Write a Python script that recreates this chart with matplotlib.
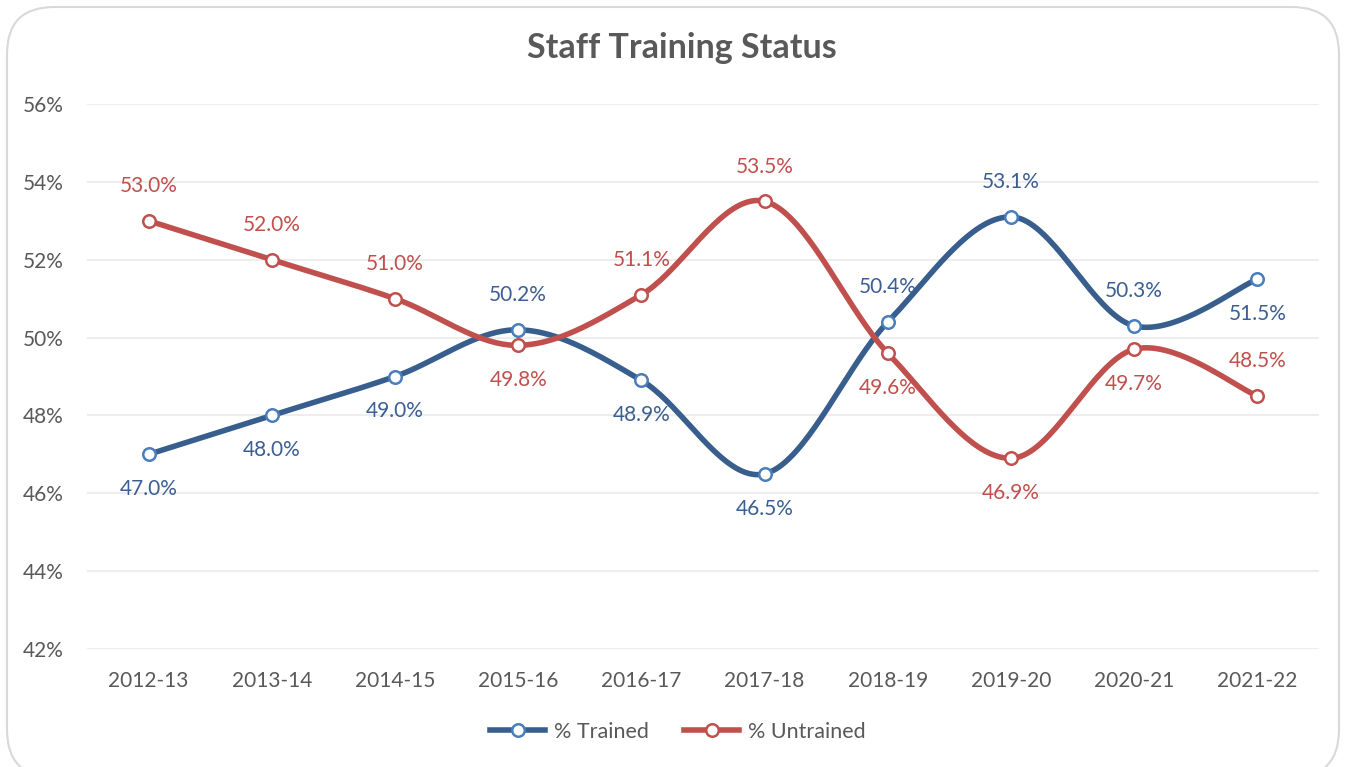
import matplotlib.pyplot as plt
import numpy as np
from matplotlib.patches import FancyBboxPatch

years = ["2012-13", "2013-14", "2014-15", "2015-16", "2016-17",
         "2017-18", "2018-19", "2019-20", "2020-21", "2021-22"]
trained = [47.0, 48.0, 49.0, 50.2, 48.9, 46.5, 50.4, 53.1, 50.3, 51.5]
untrained = [53.0, 52.0, 51.0, 49.8, 51.1, 53.5, 49.6, 46.9, 49.7, 48.5]
# label placement: 1 above, -1 below
trained_pos = [-1, -1, -1, 1, -1, -1, 1, 1, 1, -1]
untrained_pos = [1, 1, 1, -1, 1, 1, -1, -1, -1, 1]

plt.rcParams['font.family'] = ['Lato', 'DejaVu Sans']

BLUE = '#385E8E'
BLUE_EDGE = '#4A7EBB'
BLUE_TXT = '#3B5E93'
RED = '#C0504D'
RED_TXT = '#C0504D'
GREY = '#595959'


def smooth(x, y, n=40):
    # spline like excel's "smoothed line" (catmull-rom bezier)
    x = np.asarray(x, float)
    y = np.asarray(y, float)
    px = np.concatenate([[x[0]], x, [x[-1]]])
    py = np.concatenate([[y[0]], y, [y[-1]]])
    xs, ys = [], []
    t = np.linspace(0, 1, n)
    for i in range(1, len(px) - 2):
        p0 = np.array([px[i], py[i]])
        p3 = np.array([px[i + 1], py[i + 1]])
        c1 = p0 + (np.array([px[i + 1], py[i + 1]]) - np.array([px[i - 1], py[i - 1]])) / 6
        c2 = p3 - (np.array([px[i + 2], py[i + 2]]) - np.array([px[i], py[i]])) / 6
        b = ((1 - t) ** 3)[:, None] * p0 + (3 * (1 - t) ** 2 * t)[:, None] * c1 \
            + (3 * (1 - t) * t ** 2)[:, None] * c2 + (t ** 3)[:, None] * p3
        xs.extend(b[:, 0])
        ys.extend(b[:, 1])
    return np.array(xs), np.array(ys)


fig = plt.figure(figsize=(13.46, 7.67), dpi=100)
ax = fig.add_axes([87 / 1346, 1 - 649 / 767, (1319 - 87) / 1346, (649 - 104) / 767])

# chart frame (bottom edge runs just past the picture)
frame = FancyBboxPatch((7 / 1346, -10 / 767), 1332 / 1346, 770 / 767,
                       boxstyle="round,pad=0,rounding_size=0.035",
                       transform=fig.transFigure, fill=False, clip_on=False,
                       edgecolor='#D9D9D9', linewidth=1.5, mutation_aspect=1346 / 767)
fig.patches.append(frame)

x = np.arange(len(years))
for vals, pos, col, edge, txt, name in [
        (trained, trained_pos, BLUE, BLUE_EDGE, BLUE_TXT, "% Trained"),
        (untrained, untrained_pos, RED, RED, RED_TXT, "% Untrained")]:
    sx, sy = smooth(x, vals)
    ax.plot(sx, sy, color=col, linewidth=4, solid_capstyle='round', zorder=3)
    ax.plot(x, vals, linestyle='none', marker='o', markersize=9,
            markerfacecolor='white', markeredgecolor=edge, markeredgewidth=1.8, zorder=4)
    ax.plot([], [], color=col, linewidth=4, marker='o', markersize=9,
            markerfacecolor='white', markeredgecolor=edge, markeredgewidth=1.8, label=name)
    for xi, v, p in zip(x, vals, pos):
        ax.annotate(f"{v:.1f}%", (xi, v), xytext=(0, 25 * p), textcoords='offset points',
                    ha='center', va='center', fontsize=15, color=txt)

ax.set_xlim(-0.5, len(years) - 0.5)
ax.set_ylim(42, 56)
ax.set_yticks(np.arange(42, 57, 2))
ax.set_yticklabels([f"{v}%" for v in range(42, 57, 2)])
ax.set_xticks(x)
ax.set_xticklabels(years)
ax.tick_params(length=0, labelsize=15, colors=GREY)
ax.tick_params(axis='x', pad=16)
ax.tick_params(axis='y', pad=17)
ax.grid(axis='y', color='#EDEDED', linewidth=1.5)
ax.set_axisbelow(True)
for s in ax.spines.values():
    s.set_visible(False)

fig.text(682 / 1346, 1 - 48 / 767, "Staff Training Status", ha='center', va='center',
         fontsize=24.5, fontweight='bold', color=GREY)

leg = fig.legend(loc='center', bbox_to_anchor=(678 / 1346, 1 - 732 / 767), ncol=2,
                 frameon=False, fontsize=15.5, handlelength=2.55, columnspacing=1.65,
                 handletextpad=0.42)
for t in leg.get_texts():
    t.set_color(GREY)

fig.savefig("out.png", dpi=100)
